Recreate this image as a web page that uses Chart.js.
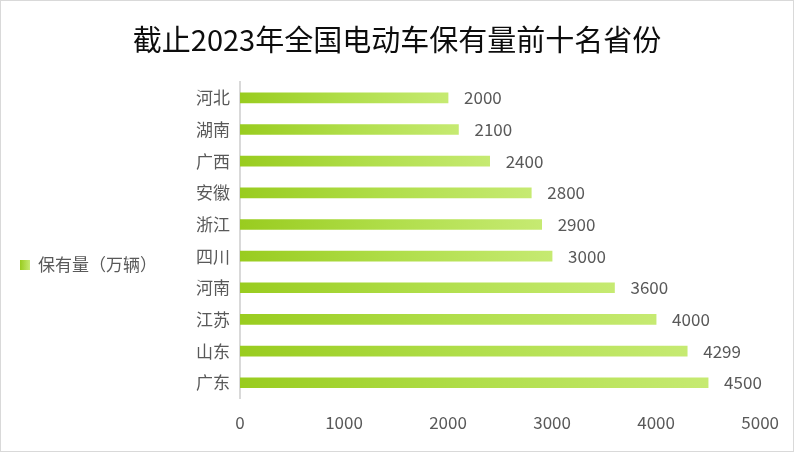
<!DOCTYPE html>
<html>
<head>
<meta charset="utf-8">
<script src="https://cdn.jsdelivr.net/npm/chart.js@4"></script>
<style>
  html, body { margin: 0; padding: 0; background: #fff; }
  #wrap { width: 792px; height: 450px; border: 1px solid #d9d9d9; background: #fff; }
</style>
</head>
<body>
<div id="wrap"><canvas id="chart" width="792" height="450"></canvas></div>
<script>
const provinces = ['河北', '湖南', '广西', '安徽', '浙江', '四川', '河南', '江苏', '山东', '广东'];
const holdings = [2000, 2100, 2400, 2800, 2900, 3000, 3600, 4000, 4299, 4500];
const xTicks = [0, 1000, 2000, 3000, 4000, 5000];
const seriesName = '保有量（万辆）';
const chartTitle = '截止2023年全国电动车保有量前十名省份';

const FONT = '"Noto Sans CJK SC", "Microsoft YaHei", sans-serif';
const GREY = '#595959';

// gradient per bar, dark green at the base to light green at the tip
function barFill(ctx) {
    const chart = ctx.chart;
    if (!chart.chartArea || ctx.type !== 'data') return '#9fd12a';
    const x = chart.scales.x;
    const x0 = x.getPixelForValue(0);
    const x1 = x.getPixelForValue(ctx.raw);
    const g = chart.ctx.createLinearGradient(x0, 0, x1, 0);
    g.addColorStop(0, '#99cc1f');
    g.addColorStop(0.5, '#b0de4a');
    g.addColorStop(1, '#c6ea72');
    return g;
}

const valueLabels = {
    id: 'valueLabels',
    afterDatasetsDraw(chart) {
        const c = chart.ctx;
        const meta = chart.getDatasetMeta(0);
        c.save();
        c.font = '17px ' + FONT;
        c.fillStyle = GREY;
        c.textBaseline = 'middle';
        c.textAlign = 'left';
        meta.data.forEach((bar, i) => {
            c.fillText(String(holdings[i]), bar.x + 16, bar.y);
        });
        c.restore();
    }
};

// title centred on the whole canvas, legend left of the axis labels
const decorations = {
    id: 'decorations',
    afterDraw(chart) {
        const c = chart.ctx;
        c.save();
        c.font = '29px ' + FONT;
        c.fillStyle = '#0d0d0d';
        c.textBaseline = 'middle';
        c.textAlign = 'center';
        c.fillText(chartTitle, chart.width / 2, 39);

        const grad = c.createLinearGradient(19, 0, 29, 0);
        grad.addColorStop(0, '#99cc1f');
        grad.addColorStop(1, '#c6ea72');
        c.fillStyle = grad;
        c.fillRect(19, 259, 10, 10);
        c.font = '17px ' + FONT;
        c.fillStyle = GREY;
        c.textAlign = 'left';
        c.fillText(seriesName, 37, 264);
        c.restore();
    }
};

new Chart(document.getElementById('chart'), {
    type: 'bar',
    data: {
        labels: provinces,
        datasets: [{
            label: seriesName,
            data: holdings,
            backgroundColor: barFill,
            borderWidth: 0,
            barThickness: 10
        }]
    },
    options: {
        indexAxis: 'y',
        responsive: false,
        animation: false,
        layout: { padding: { left: 159, right: 32, top: 81, bottom: 4 } },
        plugins: {
            title: { display: false },
            legend: { display: false },
            tooltip: { enabled: false }
        },
        scales: {
            x: {
                min: xTicks[0],
                max: xTicks[xTicks.length - 1],
                afterBuildTicks(scale) { scale.ticks = xTicks.map(v => ({ value: v })); },
                grid: { display: false, drawTicks: false },
                border: { display: false },
                ticks: {
                    color: GREY,
                    font: { family: FONT, size: 17 },
                    padding: 14,
                    callback: v => String(v)
                }
            },
            y: {
                grid: { display: false, drawTicks: false },
                border: { display: true, color: '#d9d9d9', width: 2 },
                ticks: { color: GREY, font: { family: FONT, size: 17 }, padding: 10 },
                afterFit(scale) { scale.width = 80; }
            }
        }
    },
    plugins: [valueLabels, decorations]
});
</script>
</body>
</html>
